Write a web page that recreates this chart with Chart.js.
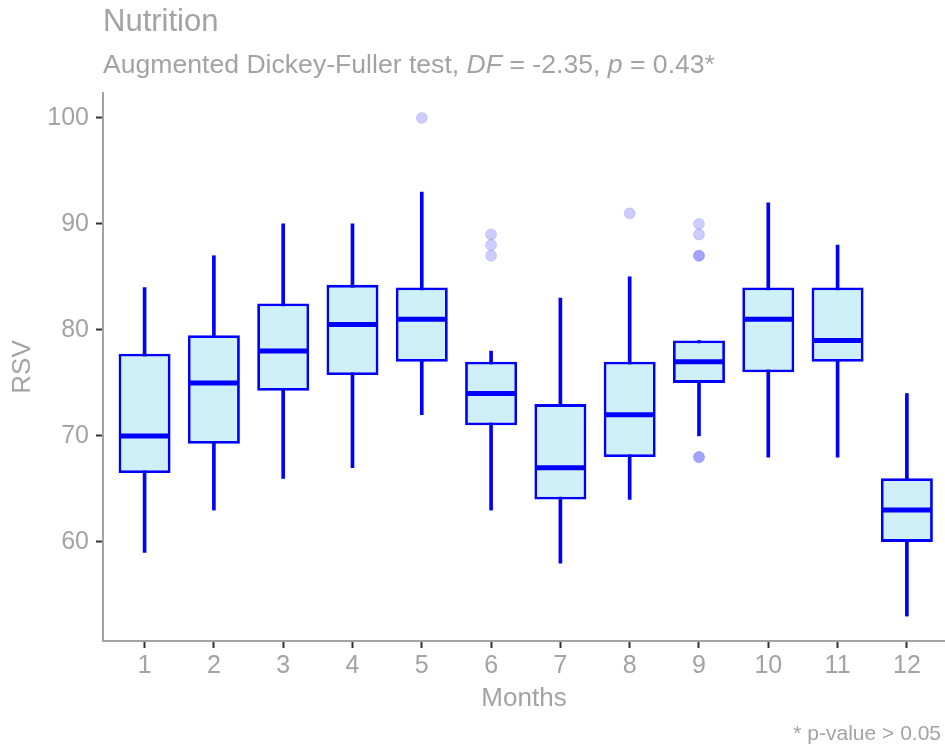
<!DOCTYPE html>
<html>
<head>
<meta charset="utf-8">
<script src="https://cdn.jsdelivr.net/npm/chart.js@4"></script>
<style>
  html, body { margin: 0; padding: 0; background: #fff; }
  #wrap { position: relative; width: 945px; height: 749px; font-family: "Liberation Sans", Arial, sans-serif; color: #a3a3a3; }
  #title { position: absolute; left: 103px; top: 3px; font-size: 31px; line-height: 36px; }
  #subtitle { position: absolute; left: 103px; top: 49px; font-size: 26.6px; line-height: 30px; white-space: nowrap; }
  #caption { position: absolute; right: 4px; top: 721px; font-size: 21px; line-height: 24px; white-space: nowrap; }
</style>
</head>
<body>
<div id="wrap">
  <canvas id="myChart" width="945" height="749"></canvas>
  <div id="title">Nutrition</div>
  <div id="subtitle">Augmented Dickey-Fuller test, <i>DF</i> = -2.35, <i>p</i> = 0.43*</div>
  <div id="caption">* p-value &gt; 0.05</div>
</div>
<script>

//------------------------------------------------------------------
// monthly RSV box stats

const months   = [1, 2, 3, 4, 5, 6, 7, 8, 9, 10, 11, 12];
const wLow     = [59, 63, 66, 67, 72, 63, 58, 64, 70, 68, 68, 53];
const q1       = [66.5, 69.25, 74.25, 75.75, 77, 71, 64, 68, 75, 76, 77, 60];
const medians  = [70, 75, 78, 80.5, 81, 74, 67, 72, 77, 81, 79, 63];
const q3       = [77.75, 79.5, 82.5, 84.25, 84, 77, 73, 77, 79, 84, 84, 66];
const wHigh    = [84, 87, 90, 90, 93, 78, 83, 85, 79, 92, 88, 74];

// outliers as [month, value]
const outliers = [
    [5, 100],
    [6, 87], [6, 88], [6, 89],
    [8, 91],
    [9, 90], [9, 89], [9, 87], [9, 87], [9, 68], [9, 68]
];

const yTicks = [60, 70, 80, 90, 100];

const blue = '#0000ff';
const grey = '#a3a3a3';

//------------------------------------------------------------------

let box_data = [];
let whisker_data = [];
for (let i = 0; i < months.length; i++) {
    box_data.push({ x: months[i], y: [q1[i], q3[i]] });
    whisker_data.push({ x: months[i], y: [wLow[i], wHigh[i]] });
}

let outlier_data = outliers.map(o => ({ x: o[0], y: o[1] }));

// median bars go on top of the boxes
const median_plugin = {
    id: 'median_plugin',
    afterDatasetsDraw(chart) {
        const meta = chart.getDatasetMeta(0);
        const yScale = chart.scales.y;
        const ctx = chart.ctx;
        ctx.save();
        ctx.strokeStyle = blue;
        ctx.lineWidth = 5;
        for (let i = 0; i < meta.data.length; i++) {
            const bar = meta.data[i];
            const y = yScale.getPixelForValue(medians[i]);
            ctx.beginPath();
            ctx.moveTo(bar.x - bar.width / 2 + 1, y);
            ctx.lineTo(bar.x + bar.width / 2 - 1, y);
            ctx.stroke();
        }
        ctx.restore();
    }
};

const ctx = document.getElementById('myChart');

const kave_chart = new Chart(ctx, {
    type: 'bar',
    data: {
        datasets: [{
            label: 'box',
            data: box_data,
            order: 1,
            grouped: false,
            backgroundColor: '#cff0f8',
            borderColor: blue,
            borderWidth: 2.8,
            borderSkipped: false,
            barPercentage: 0.75,
            categoryPercentage: 1
        }, {
            label: 'whisker',
            data: whisker_data,
            order: 2,
            grouped: false,
            backgroundColor: blue,
            borderWidth: 0,
            barThickness: 3
        }, {
            type: 'scatter',
            label: 'outlier',
            data: outlier_data,
            order: 0,
            pointRadius: 5.5,
            backgroundColor: 'rgba(0,0,255,0.2)',
            borderColor: 'rgba(0,0,255,0.12)',
            borderWidth: 1
        }]
    },
    options: {
        responsive: false,
        animation: false,
        events: [],
        layout: { autoPadding: false, padding: { top: 93, left: 0, right: 0, bottom: 0 } },
        plugins: {
            legend: { display: false },
            tooltip: { enabled: false }
        },
        scales: {
            x: {
                type: 'linear',
                min: 0.4,
                max: 12.55,
                offset: false,
                afterFit: s => { s.height = 108; s.paddingLeft = 0; s.paddingRight = 0; },
                afterBuildTicks: s => { s.ticks = months.map(v => ({ value: v })); },
                grid: { offset: false, drawOnChartArea: false, tickLength: 7, tickColor: '#333', tickWidth: 2 },
                border: { color: grey, width: 2 },
                ticks: { color: grey, padding: 3, font: { family: 'Liberation Sans', size: 25 }, maxRotation: 0 },
                title: {
                    display: true, text: 'Months', color: grey,
                    font: { family: 'Liberation Sans', size: 26 },
                    padding: { top: 0, bottom: 35 }
                }
            },
            y: {
                type: 'linear',
                min: 50.65,
                max: 102.35,
                afterFit: s => { s.width = 103; s.paddingTop = 0; s.paddingBottom = 0; },
                afterBuildTicks: s => { s.ticks = yTicks.map(v => ({ value: v })); },
                grid: { drawOnChartArea: false, tickLength: 7, tickColor: '#333', tickWidth: 2 },
                border: { color: grey, width: 2 },
                ticks: { color: grey, padding: 7, font: { family: 'Liberation Sans', size: 25 } },
                title: {
                    display: true, text: 'RSV', color: grey,
                    font: { family: 'Liberation Sans', size: 26 },
                    padding: { top: 7, bottom: 0 }
                }
            }
        }
    },
    plugins: [median_plugin]
});

</script>
</body>
</html>
